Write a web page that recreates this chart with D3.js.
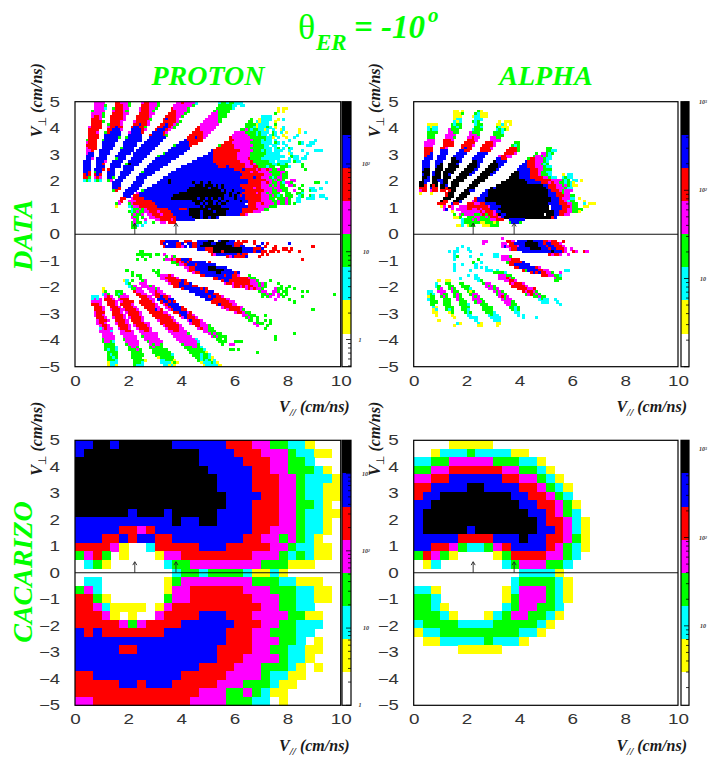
<!DOCTYPE html>
<html><head><meta charset="utf-8">
<script src="https://cdn.jsdelivr.net/npm/d3@7"></script>
<style>html,body{margin:0;padding:0;background:#fff}svg{display:block}</style>
</head><body><div id="c"></div>
<script>
// level letters, top of colour scale first
const levelKeys = ["k","b","r","m","g","c","y","."];
const levelColors = ["#000000","#0000ff","#ff0000","#ff00ff","#00ff00","#00ffff","#ffff00","#ffffff"];
const xTicks = [0,2,4,6,8,10];
const yTicks = [5,4,3,2,1,0,-1,-2,-3,-4,-5];
const arrowMarks = [2.25,3.8];

// DATA panels: 100 x 100 bins. Each row: "startCol:levels ..." (later pieces overwrite earlier ones)
const protonDataRows = [
"7:mmmm 15:rrmmmg 25:mrrmmmg 38:mmrmmmmc 54:cggcggccc",
"7:mmmmg 15:rrrmmg 25:rrrmmmg 37:mmmmmmmg 54:gggggcc 62:cc",
"7:mmmmc 14:grrrmm 24:mrrrmmg 36:rmmmmmg 53:ggggggc 76:y 78:yy",
"6:gmmmm 14:mrrrmg 24:mrrrmg 36:rrmmmmg 52:gmgggg 76:y 78:y",
"6:mmmmg 14:rrrrmm 24:rrrrmm 35:rrrmmmg 51:mmmggg 75:g",
"6:mrrmg 13:rrrrrm 23:rrrrrm 34:rrrrmmg 50:mmmmggg 70:cccc",
"6:rrrm 13:rrrrrm 23:rrrrrg 33:rbrrrm 49:mmmmmg 66:g 69:ycccc 76:y 78:c",
"6:rrrrg 13:rrrrm 22:mrrrrm 33:rrrrrmg 48:mmmmmmg 65:gg 68:cyccc 75:y",
"6:rrrr 12:grrrrm 22:rrbrrm 32:rrbrrmg 47:mmmmmmm 64:ggggycccc 75:g",
"5:mrrrr 12:mrrbrr 21:rbbrrg 31:rrbbrmg 46:rmmmmmm 64:gggcycccgc 75:y 78:c",
"5:rrrr 12:rrbbbm 21:bbbbrm 30:rbbbrm 45:rrmmmmm 62:ggmgcggccyc 74:c 77:yc 84:y",
"5:rrrm 11:grbbbb 20:mbbbbr 29:bbbbrm 44:rrrrmmm 60:mmmmggggcgccc 74:gc 77:c 79:y 84:y 86:c",
"5:rrrr 11:bbbbbb 20:bbbbb 28:rbbbbrg 43:rrrrrmm 59:mmmmmmgggcgcc 73:cgc 78:y 83:c",
"5:rrrr 11:bbbbbg 19:gbbbbb 28:bbbbbb 42:rrrbrrm 58:rmmmmmmmggggggccy 76:c 79:y 82:c",
"4:grrr 10:gbbbbb 19:bbbbbb 27:bbbbbb 41:brrrrrr 58:rrmmmmmmmgggcgcc 75:c 80:c 90:c",
"4:mrrr 10:bbbbb 18:bbbbb 26:bbbbbb 39:bbbbrrr 56:rrrmmmmmmmggggcccc 75:gc 78:c 84:gc 88:cc",
"4:rrrr 10:bbbbb 18:bbbbb 25:bbbbbb 37:gbbbbbr 54:grrrrrmmmmmmmggggcc 74:cc 79:c 87:cc",
"4:mrrr 10:bbbb 17:gbbbb 24:bbbbbb 36:bbbbbbb 53:rrrrrrrmmmmmmgggggccc 75:cg 78:c 80:gc",
"4:mmr 9:bbbb 17:bbbbb 23:bbbbbb 35:bbbbbbb 51:brrrrrrrrrrmmmmmgggcgcc 75:ccc 80:c 85:c 90:ccc",
"4:mbb 9:bbbb 16:bbbbb 22:bbbbbb 33:gbbbbbbb 50:bbrrrrrrrrrmmmmmggggggccc 75:cc 80:yc 87:c",
"4:bbb 9:bbb 15:bbbb 22:bbbbb 31:gbbbbbbb 48:bbbbrrrrrrrrrmmmmmgggggcccc 75:cccc 81:gcc 86:c",
"4:bbm 8:bbbb 15:gbbb 21:bbbbb 30:bbbbbbbb 46:bbbbbbrrrrrrrrrmmmmrggggcccc 74:ccc 80:c 82:cc 85:cc",
"3:bbb 8:bbbm 14:bbbb 20:bbbbb 29:bbbbbbb 44:bbbbbbbbrrrrrrrrrrmmmmrggggggcc 76:ccccc 82:gcc",
"3:bbb 8:bbr 13:bbbb 19:gkbbb 28:bbbbbbb 42:bbbbbbbbbbbrrrrrrrrrrrmmrmggggggcc 76:gccg 85:g",
"3:bbb 8:bbb 13:bbbb 18:bbbb 27:bbbbbb 40:bbbbbbbbbbbbbbrrrbrrrrrrmmmrrgggcgg 77:gggc 85:g",
"3:bbb 7:bbbr 12:rbb 18:bbbb 26:bbbbbb 38:bbbbbbbbbbbbbbbbbbbbbbrrrbrrrrmrmmrmgggg 76:mgg 86:g",
"3:bbr 7:gbb 12:bbb 17:bbbb 25:gbbbb 36:bbbbbbbbbbbbbbbbbbbbbbbbbbrrrrmrrmmmmggg 76:gmmg",
"3:rbr 7:rbr 12:bbb 17:bbb 24:bbbbb 35:bbbbbbbbbbbbbbbbbbbbbbbbbbbbrrrrrrrrmmmgg 76:gmgg",
"3:rrg 7:mrm 12:bbg 16:bbb 23:bbbb 33:bbbbbbbbbbbbbbbbbbbbbbbbbbbbbrrrrrbrrmmmgcg 76:mmgg",
"3:cgc 7:cgc 12:gm 15:bbb 23:bbb 32:bbbkbbbbbbbbbbbbbbbbbbbbbbbbbbbbbrrrrrrrmmgmgg 76:gmg 81:mm",
"14:bbb 22:bbbb 31:bbbbkbbbbbbbbkbbkbbkbbbbbbbbbbbbbb 65:rrrrrmmrmggmgc 79:mmg 90:gg 94:c",
"14:bbb 21:bbbb 29:bbbbbbbbbbbbbbbbkkkbkkkbkbkbbbbbb 62:rrrrrrrrmmmgmgmgg 80:mmg 85:g",
"14:bbr 20:bbbb 27:bbbbbbbbbbbbbbbbkkkkkkkbkkkbkbbbbbbb 63:rrrrmrrmmmmgmmgg 79:g 84:g 88:cc 92:c",
"14:gr 19:bbbb 25:gbbbbbbbbbbbbbbbbkkkkkkkkkkkkkbkbbkbbbbbb 64:rrrrrrrmmmggmmgg 82:m 85:g 88:gcc",
"18:bbbb 23:mbbbbbbbbbbbbbbbkkkkkkkkkkkkkkkkkkbkbbkbbb 63:rrrrrmrmmgmggg 79:gg 83:ggc",
"18:bbb 22:rrbbbbbbbbbbbbbkkkkkkkkkkkkkkkkkkkbbkbkbbbb 62:rbrrrrrrmmmgmgcg 79:ggg 84:cg 88:gc 92:cc",
"17:rr 21:mrrrrbbbbbbbbbbkkkkkkkkkkbkkbkbkkbkbbbbkbbb 62:bbrrrrrrmmmgg 76:gggmg 83:cc 87:ccc 94:c",
"16:mr 20:mmmrrrrrrbbbbbbbbbbbbbbbkkkkbkkkbbkbbkbbbbkbb 65:rrrrrmmmmgg 76:mggmg 83:cc",
"15:gm 20:gmrrrrrrrrbbbbbbbbbbbbbbbkkbkbkkbkbkkbbbbbbb 65:rrrmmrmmmmgmggmg 82:g",
"15:y 20:cgmmrrrrrrrbbbbbbbbbbbbbbbbkbkkkkkkbbbbbbbbbb 64:brrrmmmmmggg",
"21:cggmgmrrrr 31:rrrrbbbbrrrbbbbbbbbbbbbbbbbbbbbbbb 43:kkkkkkkbkkkkkkk 63:rrrrrrmmgg",
"20:gcgmgg 26:mmrrr 31:mrrrr 36:bbbbbbbbbbbbbbbbbbbbbbbbbbb 43:kkkkbkkkkbkkkk 63:rrrr 67:mmm",
"21:gmggm 27:mmrrrmrrrr 37:bbbbbbbbbbbbbbbbbbbbbbbbb 43:kkkkbkkkkkkkkk 62:rrm",
"21:mgg 25:g 28:mmrrrrrrrr 38:bbbbbbbbbbbbbbbb 44:kkkbkkbkkb",
"22:mg 26:m 30:mmrrrrmr 38:bbbbbbb",
"21:gmgg 26:c 29:g 32:mm 35:rrr",
"21:ggc 25:c",
"21:gg",
"",
"",
// below zero
"",
"",
"32:rrbbbbb 41:rrr 46:bbbbkk 54:bkkkbb 61:r 63:rr 67:r",
"32:rb.bbbrrb.bbrrbbkkkbbkkkkbbbrrr 67:r 70:b 72:r 80:b",
"33:rbbbbrr 40:mb.brrbkkkkkkkkkkkkbrrbb 68:bb 71:r 75:r 89:r",
"46:bbbrrrkkkkkkkkkkkbbbbrrrb 74:rr 78:rr 81:r",
"24:gg 50:rrkkkrkkkkkkkbbbbrbbrr 73:rr 76:r 80:r 84:r",
"23:gggggg 30:gg 33:m 51:rmbbbbbbbbrbrr 70:r 72:r",
"25:g 28:g 34:g 36:mg 57:rmbrrrrb 69:r",
"23:g 26:g 33:gmmrmrrbbbr 85:r",
"36:ggrmrbrbbbbbb 50:r",
"38:gmmrbbbrbbbbbbb",
"41:mmrrbbbbbkkkbbbb",
"19:g 29:g 31:g 42:mrrbbbbbkkkkkkbbb",
"21:g 30:gg 44:mrrbbbbbbkkbbbbbrb",
"21:g 23:gg 31:gmmmrm 47:rrbbbbbbbrbbrrm 65:g",
"24:g 32:mmrrrrm 52:rrbbbbbrrrrrrmgg",
"18:yc 21:g 25:gm 34:mrrrrrbr 55:rbbrrrrrrrrmmg 73:g",
"19:cg 24:mmm 35:mrrrbbrrb 56:mrrmrrrrrrmmmgmg 76:g",
"20:cgm 25:mmmgm 37:rrbbbbbrr 59:mrrmrmrrmmgmg 77:g 80:g",
"10:y 21:ggmm 27:mmmgm 40:rbbbbbbrbr 64:mrmrmmg 75:mgg 79:g 82:g",
"10:yg 15:ggg 22:rmmm 28:mmrmm 43:bbbbbbrbb 69:gmm 74:mmg 78:gg 85:g 87:g",
"10:cmg 15:gcgm 23:rrmm 29:mrrmm 45:bbbbbbbrr 70:ggmgm 76:mg 79:g 97:g",
"6:ccc 11:mrm 16:gmmm 24:rrrmm 30:rrbrrm 47:bbbrbbrrm 70:g 72:gm 76:m 78:g 85:g",
"6:cmcm 11:rrrm 16:mrrr 25:rrrmm 31:bbbrbb 49:bbbrrrrrm 75:m 80:g",
"6:mmmm 12:rrrm 17:mrrrr 24:rrrrrm 32:rbbrbr 51:rrrrrrrmm 82:g",
"6:rrrm 12:rrrm 17:rrrrm 25:rrrrrm 33:mrbbbb 53:rbrrrrmm",
"7:rrrm 13:rrrm 18:rrrrm 26:rrrrmm 34:mrbbbbr 55:mrrrrrrm",
"7:rrrm 13:mrrrm 18:mrrrrm 27:rrrbmr 35:mrbbbrr 57:mrrrrmg 89:g",
"7:mrrr 14:rrrm 19:mrrrrm 28:rrrrrmm 37:rrbbbmr 60:mrrmgg",
"7:mrrm 14:rrrrm 20:rrrrm 29:rrrrrrm 39:rbbrrm 63:mmggg 71:g",
"8:rrrm 14:mrrrm 20:mrrrrm 30:rrrrrrm 40:mbrrrm 64:gmg 68:g",
"8:mrrrm 15:rrrrm 21:rrrrm 31:mrrrrrm 42:mbrrrm 65:gg 68:g 71:g 73:g",
"8:mrrm 15:mrrrm 22:rrrrmm 32:rrrrrrm 43:mrrrmm 67:mg 69:gg 73:g",
"9:mrrm 16:rrrrm 22:mrrrrm 33:mrrrrrm 45:rrmmmg 68:m 72:g",
"9:cmrmm 16:mrrrm 23:mrrrrm 34:mrrrrmm 46:mrmmgg 71:g",
"9:mmmmc 17:mmrrm 24:mmrrm 35:mmrrmmm 48:mmggg",
"10:mmmm 17:mmmmm 25:mmmmmm 36:mmmmmmg 50:mgmgg 82:g",
"10:mmmmm 18:mmmmm 25:gmmmmm 37:mmmmmmm 51:mgmggg 75:g",
"10:gmmmm 18:gmmmm 26:mmmmmm 38:mmmmmmmc 53:gg 56:g 75:g",
"10:gmmgc 19:mmmmm 27:gmmmmm 39:mmmmmmmc 54:ggg 60:ggg",
"11:gggg 19:gmmmm 28:mgmmg 40:gmmmmmg 55:g 58:mm",
"11:ggggc 20:gmmg 28:gmggg 41:gggmmgc",
"11:gcggc 20:gggmg 29:gggggg 42:ggggggc 58:gg 61:g",
"12:gggg 21:gggg 29:ggggggg 43:ggggggy 68:g",
"12:gcgg 21:ggggg 30:ggggggc 44:gggcggc",
"12:ggcg 21:gggg 31:yggggg 45:ggcggcy",
"12:gggc 22:ggggy 32:ccgggy 46:gcgcgyc",
"12:yccc 22:gggc 32:ccccygy 47:ycccgcy",
"12:yccy 22:gccc 33:ccycy 48:ycccccy"
];

const alphaDataRows = [
"","","",
"15:yy 18:y 24:gy",
"15:yyy 18:g 23:gcyyy",
"15:yyy 22:yccyy 27:y",
"15:yc 17:c 23:ccc",
"15:cyc 22:gcg 32:y 34:yyy",
"5:yyy 8:y 14:gcgg 23:cgg 31:yy 33:cy 36:y",
"5:cy 7:cc 14:ggcg 23:ggc 31:gcyy 35:y",
"5:cgcc 13:mggg 22:cggg 31:cgcc 34:gy",
"5:gggg 13:mmgg 21:mggg 30:gggc",
"5:ggg 12:mmmm 21:mmmg 30:ggg 33:g",
"5:ggg 12:mmmg 20:mmrmm 29:mmgg",
"5:mmm 11:rrrm 20:rrrm 29:mmmm",
"4:mmmm 11:rrrr 19:rrrr 27:rrrm 38:gg",
"4:mmm 11:rrrr 18:rrrrm 26:rrrrm 37:gcg",
"4:rrr 10:rrm 18:rbrr 25:rrrrm 36:rrrg 50:gg",
"4:rrr 10:bbb 17:bbrr 25:rrrr 35:rrrrg 50:ggcc",
"4:rrb 10:bbb 16:bbbb 24:bbbb 34:rrrrm 46:g 48:mmgcg",
"4:rbb 9:bbb 15:bbbb 23:bbbb 32:mrrmm 45:gmmgmgc",
"4:bbb 9:bbb 14:kkbb 22:bbbb 31:bbrr 43:grrmmmgcc",
"3:bbb 8:bbb 14:kkkb 22:kkbb 30:kbbbb 42:brrrmmmgc",
"3:bbb 8:bbk 13:kkkb 21:kkkb 29:kkkbb 41:bbrrrmmgcg",
"3:bbb 8:bkk 13:kkkk 20:kkkkb 28:kkkkb 40:bbbrrrmmmgcc",
"3:bkk 8:kkk 12:kkkk 19:kkkkb 27:kkkkb 39:bbbbbrrrmmggg",
"3:kkk 7:bkk 11:kkkk 18:kkkkb 26:kkkkb 38:kkbbbbrrrmggcc",
"3:bkk 7:bkk 11:kkb 17:kkkkb 25:kkkkb 37:kkkbbbbrrrmgggc 56:y 58:cc",
"3:kkb 7:kkk 11:kkk 16:kkkk 24:kkkk 36:kkkkbbbbrrrrrmmgcc 56:cgcc",
"3:kbb 7:kkb 10:bkk 15:kkkk 23:kkkk 35:kkkkkkkbbbbrrrrrrmmmmgcg 60:cc 63:y",
"2:kkb 7:kk 10:bkk 14:kkk 22:kkk 33:kkkkkkkkkkbbbbbrrrmrmmggcgcy",
"2:kkr 6:krk 10:kkb 14:kkk 21:kkk 31:kkkkkkkkkkkkkkkkkkbbrrrmmgmgcyy",
"2:rrr 6:brr 10:kkr 13:kkk 20:kkk 29:kbkkkkkkkkkkkkkkkkkkkbrrrmmmgcc",
"2:mrr 6:mrr 10:rr 13:rkk 19:kkbb 27:bkkkkkkkkkkkkkkkkkkkkkkkbrrrmgmmm",
"2:y 6:y 12:rkk 18:kkk 26:bbkkkkkkkkkkkkkkkkkkkkkkkbbbrrgmm",
"12:rkk 17:kkk 25:bbbkkkkkkkkkkkkkkkkkkkkkkkbbbrrrmmgg",
"11:kkk 16:kkk 23:rbbbkkkkkkkkkkkkkkkkkkkkkkkkkbbbrmmmcc 62:y",
"10:krr 15:kkb 22:mrbbbkkkkkkkkkkkkkkkkkkkkkkkkkbbbrrmcgg 64:y",
"9:rrr 14:brr 20:rrrmmrrbbbbkkkkkkkkkkkkkkkkkkkkkk 51:bbbbrrrmmgg 64:c 66:yyy",
"10:ym 13:rm 17:mmmrrrrrrrrmbbbbkkkkkkkkkkkkkkkkkk 52:bbbbrrrmgg 64:yy",
"11:mb 14:m 16:mmmmrrmmrmrrrbbbkkkkkkkkkkkkkkkkkkk 52:bbbbrrmmgggg",
"14:y 18:mmmmmmmrmrrrmbbkkkkkkkkkkkkkkkkkkkkkk 53:bbrrrmmggy",
"15:g 17:mgmmmmggmrgrrmrkbbkkkkkkkkkkkkkk 50:kkkbbrrmm",
"15:yyg 20:gggmmggmgrrrmbkkkkkkkkkkkkkkkkkkkk 52:rb",
"18:cgggmgmggggmmrrr 36:bbbbbb",
"18:cggggggyygggyg 36:gbbbg",
"16:yyc 20:ygg 26:yyyggg",
"","","",
// below zero
"",
"33:m",
"26:mm 35:rrm 39:bbbbkkbbbbrrmrr 56:r",
"26:m 33:mm 36:rrbbbbkkkkkbbrbbrrrm",
"18:c 33:mbmrrrmbbkkkkkbbbrbbrrrm",
"16:c 20:c 36:mrrbbbbbkkkkbbbrbbrrrm 59:m",
"13:c 15:cc 21:c 41:bbbbbbbbbbbkbbbrm 60:rm 64:r 65:m",
"15:c 25:c 30:cc 51:rmrrm 58:m",
"15:cg 21:c 30:cc 33:mmmg",
"15:c 24:g 33:mmmmrrr",
"22:g 25:c 35:grrrrrb",
"15:c 18:c 23:c 36:rrbbbbbb",
"15:c 23:c 25:c 27:c 38:rrbbbbbbrm",
"15:c 21:c 27:ccc 31:c 41:rgbbbbrrmm 57:cc",
"30:ggggc 44:rbrbrrmmg 55:m",
"20:c 23:c 32:mmmgg 48:rrrmmgg 55:c",
"17:c 23:cc 32:mmmrmg 53:mgg",
"9:y 12:yy 24:cg 34:mmrrm 53:gg",
"8:c 12:gg 17:gg 26:gmm 36:rmrrrm",
"8:cg 13:gg 18:ggg 27:mgmg 37:rrrrrm",
"9:gm 13:gmg 19:ggc 28:mmgm 39:rrrrmmr",
"5:cc 9:mmm 14:mgg 20:gyg 30:mgmg 41:rmrrmg",
"5:cgc 10:mgg 15:gmg 21:gmm 31:gmmg 42:gmrgmg",
"5:ygg 10:gmg 15:gmg 22:mgm 32:mrgm 45:ggmgg",
"5:cgg 11:ggg 16:mgg 22:mmmg 33:mgmm 47:cgcc 53:c",
"6:ggg 11:ggg 17:ggg 23:gmmg 34:mmmg 48:ccc 54:c",
"6:gg 11:ggg 17:gggc 25:ggg 35:mmgg 55:c",
"7:cy 12:ggg 18:ggg 26:gggg 36:ggcg",
"7:yc 12:gcg 18:ggc 26:gggg 37:gcg",
"7:yy 13:y 14:g 19:gcg 27:gggc 38:cc",
"8:y 14:y 20:cc 28:cgcc 39:c 41:c",
"15:y 21:ccc 29:cccc 41:c 46:c",
"9:y 23:c 30:ccc",
"16:c 17:y 24:cy 31:yy",
"15:y 24:yy 31:y",
"","","","","","","","","","","","","","",""
];

// CACARIZO panels: 30 columns x 31 rows
const protonSimRows = [
"bbkkbkkkkkkbbbbbbrrrmmggccy...",
"bkkkkkkkkkkkkkbbbbrrrmmmgccyy.",
"kkkkkkkkkkkkkkbbbbbrrrmmggc...",
"kkkkkkkkkkkkkkkbbbbbrrmmgggcy.",
"kkkkkkkkkkkkkkkkbbbbrrrmmgcccy",
"kkkkkkkkkkkkkkkkbbbbrrrmmgccyy",
"kkkkkkkkkkkkkkkkkbbbbrrmmgccyy",
"kkkkkkkkkkkkkkkkkbbbrrrmmggcy.",
"kkkkkkbkkkbkkkkkbbbbrrrmmgccyy",
"bbbbbbbbbbbkbbkkbbbbrrrmmgccy.",
"bbbbbrrmrbbbbbbbbbbbrrmmmgccy.",
"bbbrrbrbbrrbbbbbbbbrrmmgmgcy..",
"rrrrmy..crrrrrbbbrrrrrmmgccyy.",
"gmrg.y...ymmrrrrrrrrmmmgcgcyy.",
".cgy......cggmmmmmmmmgggyyy...",
"...........cggcggggcyycy......",
".cc.......ygmmmmmmmmgggccyyy..",
"gmc.......ymmrrrrrrmmmgggccyy.",
"rrgy......gmmrrrrrrrmmmggccyy.",
"rrmcyyyy.ymrrrrrrrrrrmmggcc...",
"rrrmy.y..mrrrrbbbrrrmmmmggyy..",
"rrrrrmgmrrrrbbbbbbrrrmmggccc..",
"brbrrrrrrrbbbbbbbrrrmmgggcc...",
"bbbbbbbbbbbbbbbbbrrrmmmggc.y..",
"bbbbbrrbbbbbbbbbrrrrmmggccyy..",
"bbbbbbbbbbbbbbbbrrrmmmmgccy...",
"bbbbbbbbbbbbbbrrrrmmmgggcy.y..",
"rrbbbbbbbbbbrrrrrmmmmgccyy....",
"rrrrrbbrbbbrrrrrmmmgggcyy.....",
"rrrrrrrrrrrrrrmmmggmgcyy......",
"mmrrrrrrrrrrrmmmmgggcc.y......"
];
const alphaSimRows = [
"....yyyyy.....................",
"..ycccgccccyy.................",
"ccggmmmmmgggccy...............",
"ggmmrrrrrrmmggcy..............",
"mmrrbbbbbbrrmmgcy.............",
"rrbbbbkkbbbbrrmgcy............",
"rbbkkkkkkkkbbrrmgc............",
"bbkkkkkkkkkkbbrrmgy...........",
"bkkkkkkkkkkkkbbrmgc...........",
"bkkkkkkkkkkkkkbrrmcy..........",
"bkkkkkbkkkkkkkbbrmcy..........",
"bbbbbrrrrbbbkbbrrmgy..........",
"bbrrmgccgmrbbbbrmgcy..........",
"grmgy....ygrrrrmmgc...........",
".yc.......cgmmmggc............",
"............ccccy.............",
"...........cggggcy............",
"ccy.......ycmmmgcy............",
"ggc.......ygmmmgcy............",
"ggcy......cgmmggc.............",
"gggcy...ycgmmggcy.............",
"cggggccccgggggcy..............",
"yccgggggggggccy...............",
".yycccccgcccy.................",
".....yyyyy....................",
"","","","","",""
];

// colour-bar decade positions
const barLabels = [
 {vals:[1,10,100]},{vals:[10,100,1000]},{vals:[1,10,100,1000]},{vals:[10,100,1000]}
];
const barDomains = [[0.49,512],[1,1010],[1,2700],[1.26,1260]];

const W=710,H=764;
const svg=d3.select("#c").append("svg").attr("width",W).attr("height",H);
const green="#00ff00", serif="'Liberation Serif',serif", sans="'Liberation Sans',sans-serif";
const colorOf=d3.scaleOrdinal().domain(levelKeys).range(levelColors);

function parseData(rows){
  const m=new Map();
  rows.forEach((s,j)=>s.split(" ").filter(Boolean).forEach(seg=>{
    const p=seg.split(":"),st=+p[0];
    [...p[1]].forEach((ch,i)=>{ if(ch!==".") m.set(j*1000+st+i,{row:j,col:st+i,level:ch}); else m.delete(j*1000+st+i);});
  }));
  return [...m.values()];
}
function parseSim(rows){
  const o=[];
  rows.forEach((s,j)=>[...s].forEach((ch,i)=>{ if(ch!==".") o.push({row:j,col:i,level:ch}); }));
  return o;
}

const layouts=[
 {l:75,r:340.7,t:101.7,b:366.7,bx:342,bw:9,cells:parseData(protonDataRows),nc:100,nr:100,titleX:42,lblX:366,bar:0,lbl1:360},
 {l:413.7,r:678,t:101.7,b:366.7,bx:681,bw:8,cells:parseData(alphaDataRows),nc:100,nr:100,titleX:380,lblX:703,bar:1,lbl1:698},
 {l:75,r:340.7,t:440.3,b:705.3,bx:342,bw:9,cells:parseSim(protonSimRows),nc:30,nr:31,titleX:42,lblX:366,bar:2,lbl1:360},
 {l:413.7,r:678,t:440.3,b:705.3,bx:681,bw:8,cells:parseSim(alphaSimRows),nc:30,nr:31,titleX:380,lblX:703,bar:3,lbl1:698}
];

layouts.forEach(p=>{
  const g=svg.append("g");
  const x=d3.scaleLinear().domain([0,10]).range([p.l,p.r]);
  const y=d3.scaleLinear().domain([-5,5]).range([p.b,p.t]);
  const dx=10/p.nc, dy=10/p.nr;
  g.append("g").attr("shape-rendering","crispEdges").selectAll("rect").data(p.cells).join("rect")
    .attr("x",d=>x(d.col*dx)).attr("y",d=>y(5-d.row*dy))
    .attr("width",d=>x((d.col+1)*dx)-x(d.col*dx)+0.4)
    .attr("height",d=>y(5-(d.row+1)*dy)-y(5-d.row*dy)+0.4)
    .attr("fill",d=>colorOf(d.level));
  // frame and zero line
  g.append("rect").attr("x",p.l).attr("y",p.t).attr("width",p.r-p.l).attr("height",p.b-p.t)
    .attr("fill","none").attr("stroke","#000").attr("stroke-width",1.2);
  g.append("line").attr("x1",p.l).attr("x2",p.r).attr("y1",y(0)).attr("y2",y(0)).attr("stroke","#111").attr("stroke-width",1.1);
  // arrows
  arrowMarks.forEach(a=>{
    g.append("line").attr("x1",x(a)).attr("x2",x(a)).attr("y1",y(0)).attr("y2",y(0.4)).attr("stroke","#222").attr("stroke-width",.9);
    g.append("path").attr("d",`M${x(a)-2},${y(0.29)}L${x(a)},${y(0.42)}L${x(a)+2},${y(0.29)}`).attr("fill","none").attr("stroke","#222").attr("stroke-width",.9);
  });
  // axes
  const ax=g.append("g").attr("transform",`translate(0,${p.b})`).call(d3.axisBottom(x).tickValues(xTicks).tickSize(0).tickPadding(9));
  const ay=g.append("g").attr("transform",`translate(${p.l},0)`).call(d3.axisLeft(y).tickValues(yTicks).tickSize(0).tickPadding(15));
  [ax,ay].forEach(a=>{
    a.select(".domain").remove();
    a.selectAll("text").attr("font-family",sans).attr("font-size",14).attr("fill","#333")
      .attr("lengthAdjust","spacingAndGlyphs")
      .attr("textLength",function(){return this.textContent.length>1?21:10.5;});
  });
  // colour bar
  const by=d3.scaleBand().domain(levelKeys).range([p.t,p.b]);
  g.append("g").attr("shape-rendering","crispEdges").selectAll("rect").data(levelKeys).join("rect")
    .attr("x",p.bx).attr("y",d=>by(d)).attr("width",p.bw).attr("height",by.bandwidth()+0.4).attr("fill",d=>colorOf(d));
  g.append("rect").attr("x",p.bx).attr("y",p.t).attr("width",p.bw).attr("height",p.b-p.t)
    .attr("fill","none").attr("stroke","#000").attr("stroke-width",1.2);
  const ls=d3.scaleLog().domain(barDomains[p.bar]).range([p.b,p.t]);
  const tv=ls.ticks();
  g.append("g").selectAll("line").data(tv).join("line")
    .attr("x1",p.bx+p.bw).attr("x2",d=>p.bx+p.bw-(Math.log10(d)%1===0?5:3))
    .attr("y1",d=>ls(d)).attr("y2",d=>ls(d)).attr("stroke","#000").attr("stroke-width",.8);
  g.append("g").selectAll("text").data(barLabels[p.bar].vals).join("text")
    .attr("x",d=>d===1?p.lbl1:p.lblX).attr("y",d=>ls(d)).attr("dy",".35em").attr("text-anchor","middle")
    .attr("font-family",serif).attr("font-style","italic").attr("font-weight","bold").attr("font-size",6).attr("fill","#333")
    .text(d=>d===1?"1":d===10?"10":d===100?"10²":"10³");
  // axis titles
  const tx=g.append("text").attr("x",p.r+9).attr("y",p.b+45.5).attr("text-anchor","end")
    .attr("font-family",serif).attr("font-style","italic").attr("font-weight","bold").attr("font-size",16).attr("fill","#1a1a1a");
  tx.append("tspan").text("V");
  tx.append("tspan").attr("dy",4).attr("font-size",11).text("//");
  tx.append("tspan").attr("dy",-4).text(" (cm/ns)");
  const ty=g.append("text").attr("transform",`translate(${p.titleX},${p.t+35.5}) rotate(-90)`)
    .attr("font-family",serif).attr("font-style","italic").attr("font-weight","bold").attr("font-size",16).attr("fill","#1a1a1a");
  ty.append("tspan").text("V");
  ty.append("tspan").attr("dy",4).attr("font-family","'DejaVu Sans'").attr("font-style","normal").attr("font-weight","normal").attr("font-size",11).text("⊥");
  ty.append("tspan").attr("dy",-4).text(" (cm/ns)");
});

// titles
const tBI=(sel)=>sel.attr("font-family",serif).attr("font-style","italic").attr("font-weight","bold").attr("fill",green);
const head=svg.append("g");
head.append("text").attr("x",298).attr("y",39).attr("font-family",serif).attr("font-size",36).attr("fill",green).text("θ");
tBI(head.append("text")).attr("x",316).attr("y",50).attr("font-size",23).text("ER");
tBI(head.append("text")).attr("x",354).attr("y",38).attr("font-size",33).text("= -10");
tBI(head.append("text")).attr("x",428).attr("y",22).attr("font-size",21).text("o");
tBI(svg.append("text")).attr("x",208).attr("y",85).attr("text-anchor","middle").attr("font-size",28).text("PROTON");
tBI(svg.append("text")).attr("x",546).attr("y",85).attr("text-anchor","middle").attr("font-size",28).text("ALPHA");
tBI(svg.append("text")).attr("transform","translate(32,235) rotate(-90)").attr("text-anchor","middle").attr("font-size",28).text("DATA");
tBI(svg.append("text")).attr("transform","translate(32,572) rotate(-90)").attr("text-anchor","middle").attr("font-size",28).text("CACARIZO");
</script></body></html>
